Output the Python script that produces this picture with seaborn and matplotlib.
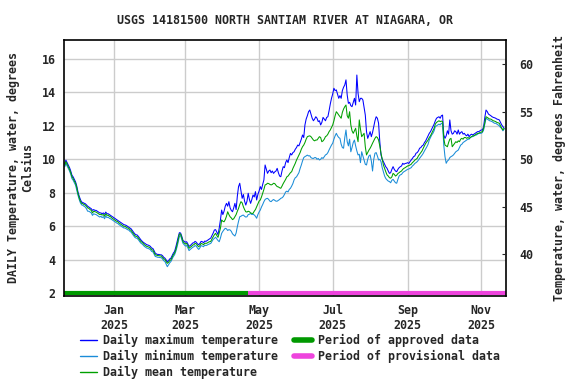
import pandas as pd
import matplotlib.pyplot as plt
from matplotlib.lines import Line2D
import seaborn as sns

# Valores diarios, 21 nov 2024 - 20 nov 2025 (grados C)
max_temp = [
    # nov 2024 (21-30)
    9.75, 9.95, 9.8, 9.65, 9.5, 9.3, 9.05, 8.95, 8.8, 8.65,
    # dic
    8.4, 8.05, 7.8, 7.6, 7.45, 7.42, 7.38, 7.35, 7.28, 7.2, 7.15, 7.1, 7.05, 6.95, 7.0, 6.95,
    6.95, 6.9, 6.85, 6.8, 6.8, 6.75, 6.8, 6.72, 6.85, 6.75, 6.75, 6.7, 6.65, 6.6, 6.55,
    # ene
    6.5, 6.45, 6.4, 6.35, 6.3, 6.25, 6.2, 6.15, 6.1, 6.08, 6.05, 6.0, 5.95, 5.9, 5.85, 5.75,
    5.65, 5.55, 5.5, 5.48, 5.4, 5.3, 5.2, 5.12, 5.05, 5.0, 4.95, 4.9, 4.88, 4.85, 4.8,
    # feb
    4.7, 4.68, 4.55, 4.4, 4.35, 4.32, 4.32, 4.3, 4.3, 4.25, 4.15, 4.1, 4.0, 3.88, 3.95, 4.05,
    4.1, 4.25, 4.4, 4.5, 4.75, 5.05, 5.35, 5.62, 5.6, 5.4, 5.15, 5.1,
    # mar
    5.05, 5.08, 4.95, 4.8, 4.85, 4.92, 5.0, 5.02, 5.1, 5.05, 4.95, 4.9, 4.98, 5.1, 5.08, 5.02,
    5.12, 5.1, 5.15, 5.2, 5.25, 5.3, 5.45, 5.6, 5.78, 5.8, 5.65, 5.5, 5.9, 6.38, 6.97,
    # abr
    6.7, 6.9, 7.2, 7.37, 7.2, 7.47, 7.1, 6.95, 6.87, 7.1, 7.37, 7.0, 7.8, 8.37, 8.57, 8.1,
    7.67, 7.9, 7.5, 7.27, 7.5, 7.97, 7.6, 7.37, 7.6, 7.87, 7.75, 8.07, 7.57, 7.9,
    # may
    8.1, 8.37, 8.2, 8.5, 8.77, 9.66, 9.4, 9.16, 9.3, 9.36, 9.2, 9.3, 9.16, 9.25, 9.3, 9.46,
    9.2, 9.0, 8.96, 9.3, 9.56, 9.5, 9.8, 9.96, 9.8, 10.1, 10.35, 10.26, 10.4, 10.45, 10.6,
    # jun
    10.7, 10.85, 10.8, 11.0, 11.2, 11.45, 11.3, 12.05, 12.4, 12.6, 12.84, 12.94, 12.7, 12.45,
    12.3, 12.4, 12.54, 12.45, 12.25, 12.3, 12.05, 12.2, 12.5, 12.4, 12.3, 12.5, 12.54, 12.9,
    13.3, 13.64,
    # jul
    13.9, 14.24, 14.1, 14.14, 13.9, 13.64, 13.8, 13.64, 14.1, 14.3, 14.44, 14.74, 13.84, 13.34,
    13.4, 13.2, 13.14, 13.4, 13.64, 13.24, 15.03, 13.94, 13.44, 13.64, 13.64, 13.54, 13.1,
    12.64, 11.65, 11.25, 11.45,
    # ago
    11.65, 11.35, 11.6, 11.95, 12.3, 12.54, 12.45, 12.15, 11.05, 10.26, 10.0, 9.86, 9.7, 9.55,
    9.46, 9.3, 9.16, 9.2, 9.4, 9.56, 9.4, 9.3, 9.26, 9.4, 9.5, 9.56, 9.6, 9.76, 9.7, 9.75, 9.76,
    # sep
    9.8, 9.75, 9.86, 9.95, 10.05, 10.16, 10.2, 10.36, 10.4, 10.5, 10.66, 10.7, 10.8, 10.85,
    11.0, 11.1, 11.25, 11.4, 11.55, 11.65, 11.8, 11.95, 12.1, 12.3, 12.45, 12.5, 12.54, 12.45,
    12.6, 12.64,
    # oct
    11.45, 11.25, 11.4, 11.7, 11.5, 12.35, 11.7, 11.5, 11.55, 11.7, 11.65, 11.5, 11.75, 11.5,
    11.6, 11.65, 11.5, 11.55, 11.45, 11.4, 11.5, 11.35, 11.45, 11.5, 11.45, 11.5, 11.55, 11.6,
    11.65, 11.65, 11.7,
    # nov 2025 (1-20)
    11.75, 11.75, 11.95, 12.5, 12.94, 12.85, 12.7, 12.65, 12.6, 12.54, 12.5, 12.48, 12.45,
    12.4, 12.38, 12.35, 12.2, 12.05, 11.95, 11.85,
]

min_temp = [
    9.55, 9.75, 9.6, 9.45, 9.3, 9.1, 8.85, 8.75, 8.6, 8.45,
    8.15, 7.85, 7.6, 7.4, 7.28, 7.25, 7.2, 7.15, 7.05, 6.9, 6.9, 6.85, 6.8, 6.65, 6.75, 6.72,
    6.7, 6.65, 6.6, 6.55, 6.6, 6.52, 6.58, 6.45, 6.62, 6.52, 6.55, 6.48, 6.45, 6.4, 6.35,
    6.3, 6.25, 6.2, 6.17, 6.1, 6.05, 6.0, 5.95, 5.9, 5.9, 5.85, 5.8, 5.78, 5.7, 5.65, 5.55,
    5.45, 5.35, 5.3, 5.28, 5.2, 5.1, 5.0, 4.95, 4.88, 4.8, 4.75, 4.7, 4.68, 4.65, 4.6,
    4.5, 4.48, 4.35, 4.2, 4.18, 4.15, 4.15, 4.13, 4.13, 4.05, 3.95, 3.9, 3.75, 3.59, 3.7, 3.82,
    3.9, 4.05, 4.2, 4.3, 4.5, 4.75, 5.05, 5.4, 5.45, 5.2, 4.98, 4.9,
    4.82, 4.85, 4.72, 4.55, 4.62, 4.68, 4.75, 4.78, 4.85, 4.82, 4.7, 4.62, 4.72, 4.85, 4.82,
    4.78, 4.88, 4.85, 4.88, 4.92, 4.95, 4.98, 5.1, 5.22, 5.28, 5.35, 5.25, 5.15, 5.08, 5.3, 5.58,
    5.7, 5.8, 5.88, 5.85, 5.75, 5.8, 5.78, 5.7, 5.55, 5.48, 5.42, 5.6, 5.98, 6.3, 6.57, 6.6,
    6.65, 6.67, 6.6, 6.55, 6.57, 6.7, 6.72, 6.77, 6.7, 6.72, 6.68, 6.6, 6.48, 6.7,
    6.85, 6.97, 7.15, 7.3, 7.47, 7.6, 7.65, 7.67, 7.6, 7.5, 7.47, 7.55, 7.6, 7.55, 7.5, 7.5,
    7.55, 7.6, 7.67, 7.7, 7.77, 7.9, 8.05, 8.1, 8.05, 8.2, 8.27, 8.4, 8.55, 8.77, 8.9,
    8.95, 9.07, 9.2, 9.45, 9.66, 9.9, 10.1, 10.16, 10.2, 10.25, 10.2, 10.21, 10.1, 10.06, 10.05,
    10.1, 10.1, 10.0, 10.05, 9.96, 10.0, 10.1, 10.05, 10.15, 10.26, 10.3, 10.4, 10.56, 10.7, 10.85,
    10.96, 11.2, 11.4, 11.55, 11.4, 11.3, 11.25, 10.9, 10.7, 10.66, 11.3, 11.75, 11.05, 10.8,
    11.2, 10.45, 10.7, 11.0, 11.15, 10.8, 10.5, 10.26, 10.3, 9.8, 10.45, 10.2, 9.96, 9.7, 9.66,
    10.0, 10.2,
    10.26, 9.9, 9.3, 10.0, 10.36, 10.4, 10.2, 9.96, 10.0, 9.86, 9.5, 9.26, 9.0, 8.85, 8.77, 8.7,
    8.67, 8.6, 8.75, 8.8, 8.7, 8.6, 8.57, 8.8, 9.0, 9.07, 9.1, 9.2, 9.26, 9.3, 9.35,
    9.4, 9.42, 9.46, 9.5, 9.6, 9.66, 9.75, 9.8, 9.86, 9.95, 10.06, 10.15, 10.25, 10.36, 10.5,
    10.62, 10.75, 10.9, 11.15, 11.3, 11.45, 11.55, 11.7, 11.95, 12.0, 12.05, 12.1, 12.05, 12.15,
    12.1,
    10.85, 10.16, 9.76, 9.9, 9.96, 10.1, 10.16, 10.2, 10.26, 10.35, 10.45, 10.5, 10.55, 10.7,
    10.85, 10.9, 11.0, 11.05, 11.1, 11.15, 11.2, 11.2, 11.3, 11.35, 11.35, 11.4, 11.45, 11.45,
    11.5, 11.55, 11.55,
    11.55, 11.6, 11.75, 12.1, 12.45, 12.4, 12.35, 12.3, 12.28, 12.25, 12.2, 12.15, 12.15, 12.1,
    12.05, 12.0, 11.9, 11.85, 11.7, 11.8,
]

mean_temp = [
    9.65, 9.86, 9.7, 9.55, 9.4, 9.2, 8.96, 8.85, 8.7, 8.57,
    8.3, 7.95, 7.7, 7.5, 7.37, 7.35, 7.3, 7.27, 7.2, 7.1, 7.07, 7.0, 6.95, 6.8, 6.9, 6.87,
    6.85, 6.8, 6.75, 6.7, 6.72, 6.67, 6.7, 6.6, 6.75, 6.65, 6.67, 6.6, 6.57, 6.5, 6.45,
    6.4, 6.35, 6.3, 6.27, 6.2, 6.15, 6.1, 6.05, 6.0, 6.0, 5.95, 5.9, 5.88, 5.8, 5.75, 5.65,
    5.55, 5.45, 5.4, 5.38, 5.3, 5.2, 5.1, 5.05, 4.98, 4.9, 4.85, 4.8, 4.78, 4.75, 4.7,
    4.6, 4.58, 4.45, 4.3, 4.28, 4.25, 4.25, 4.23, 4.23, 4.15, 4.05, 4.03, 3.9, 3.79, 3.85, 3.95,
    4.0, 4.15, 4.3, 4.4, 4.6, 4.9, 5.2, 5.54, 5.54, 5.3, 5.08, 5.0,
    4.95, 4.98, 4.85, 4.69, 4.75, 4.8, 4.88, 4.9, 4.98, 4.95, 4.85, 4.78, 4.85, 4.98, 4.95,
    4.9, 5.0, 4.98, 5.0, 5.05, 5.08, 5.1, 5.25, 5.38, 5.5, 5.58, 5.45, 5.34, 5.6, 5.88, 6.38,
    6.3, 6.27, 6.4, 6.6, 6.87, 6.7, 6.57, 6.5, 6.4, 6.45, 6.57, 6.7, 6.9, 7.07, 7.3, 7.47,
    7.4, 7.17, 7.0, 6.87, 6.85, 6.9, 6.87, 6.8, 6.77, 6.77, 6.9, 7.0, 7.17, 7.35,
    7.5, 7.57, 7.75, 7.97, 8.2, 8.47, 8.5, 8.57, 8.55, 8.5, 8.47, 8.5, 8.57, 8.55, 8.45, 8.37,
    8.35, 8.3, 8.27, 8.4, 8.55, 8.67, 8.8, 8.95, 9.0, 9.1, 9.2, 9.26, 9.45, 9.6, 9.76,
    9.95, 10.1, 10.26, 10.4, 10.6, 10.75, 10.85, 11.0, 11.2, 11.35, 11.38, 11.4, 11.35, 11.25,
    11.15, 11.1, 11.15, 11.15, 11.25, 11.35, 11.3, 11.05, 11.1, 11.2, 11.35, 11.4, 11.5, 11.65,
    11.75, 11.9,
    12.05, 12.3, 12.6, 12.84, 12.75, 12.64, 12.55, 12.45, 12.8, 13.0, 13.14, 13.24, 12.6, 12.45,
    12.84, 12.05, 11.7, 11.55, 11.7, 11.85, 11.4, 11.05, 12.35, 11.8, 11.35, 11.45, 11.55,
    10.75, 10.26, 10.4, 10.55,
    10.66, 10.8, 10.96, 11.1, 11.25, 11.35, 11.3, 11.15, 10.8, 10.36, 10.0, 9.66, 9.45, 9.25,
    9.07, 9.0, 8.9, 8.87, 8.95, 9.16, 9.1, 9.0, 9.05, 9.15, 9.2, 9.26, 9.3, 9.4, 9.46, 9.5, 9.55,
    9.6, 9.62, 9.66, 9.7, 9.8, 9.86, 9.95, 10.0, 10.06, 10.2, 10.3, 10.4, 10.5, 10.66, 10.8,
    10.95, 11.05, 11.15, 11.3, 11.4, 11.55, 11.7, 11.85, 12.1, 12.2, 12.25, 12.3, 12.25, 12.28,
    12.25,
    11.25, 10.85, 10.8, 10.75, 11.0, 11.2, 11.25, 10.75, 10.85, 10.95, 11.05, 11.0, 11.1, 11.05,
    11.2, 11.25, 11.2, 11.3, 11.3, 11.25, 11.3, 11.25, 11.3, 11.35, 11.4, 11.4, 11.45, 11.5,
    11.55, 11.55, 11.6,
    11.62, 11.65, 11.85, 12.2, 12.54, 12.5, 12.45, 12.4, 12.4, 12.35, 12.3, 12.28, 12.25, 12.2,
    12.18, 12.15, 12.0, 11.85, 11.75, 11.85,
]

series = ['Daily maximum temperature', 'Daily minimum temperature', 'Daily mean temperature']
colors = {'Daily maximum temperature': '#0000ff',
          'Daily minimum temperature': '#1a8cd8',
          'Daily mean temperature': '#00a000'}
approved_color = '#009900'
provisional_color = '#ee44dd'

start = pd.Timestamp('2024-11-21')
approved_end = pd.Timestamp('2025-04-22')
dates = pd.date_range(start, periods=len(mean_temp), freq='D')
tick_dates = pd.to_datetime(['2025-01-01', '2025-03-01', '2025-05-01',
                             '2025-07-01', '2025-09-01', '2025-11-01'])
tick_labels = ['Jan\n2025', 'Mar\n2025', 'May\n2025', 'Jul\n2025', 'Sep\n2025', 'Nov\n2025']

df = pd.DataFrame({'date': dates, series[0]: max_temp, series[1]: min_temp, series[2]: mean_temp})
long = df.melt(id_vars='date', var_name='serie', value_name='temp')

sns.set_style('white')
plt.rcParams['font.family'] = ['DejaVu Sans Mono']
plt.rcParams['font.weight'] = 'bold'
fs = 8.4

fig = plt.figure(figsize=(5.76, 3.84), dpi=100)
ax = fig.add_axes([64 / 576, 1 - 296 / 384, (505.7 - 64) / 576, (296 - 39.5) / 384])

x0 = start - pd.Timedelta(hours=14)
x1 = start + pd.Timedelta(days=365.3)

ax.grid(True, color='#cccccc', linewidth=1)
ax.set_axisbelow(True)
sns.lineplot(data=long, x='date', y='temp', hue='serie', hue_order=series, palette=colors,
             linewidth=0.75, legend=False, ax=ax)
ax.hlines(2, x0, approved_end, color=approved_color, linewidth=3)
ax.hlines(2, approved_end, x1, color=provisional_color, linewidth=3)

ax.set_xlim(x0, x1)
ax.set_ylim(1.84, 17.15)
ax.set_yticks(range(2, 17, 2))
ax.set_xticks(tick_dates)
ax.set_xticklabels(tick_labels, fontsize=fs, fontweight='bold')
ax.tick_params(axis='y', labelsize=fs, direction='in', length=0, pad=6)
ax.tick_params(axis='x', direction='in', length=0, pad=6)
ax.set_xlabel('')
ax.set_ylabel('DAILY Temperature, water, degrees\nCelsius', fontsize=fs, fontweight='bold',
              linespacing=1.1)
ax.yaxis.set_label_coords(-0.068, 0.5)
for s in ax.spines.values():
    s.set_color('black')
    s.set_linewidth(1.2)
ax.set_title('USGS 14181500 NORTH SANTIAM RIVER AT NIAGARA, OR', fontsize=fs,
             fontweight='bold', pad=11)

ax2 = ax.twinx()
ax2.set_ylim(35.6, 62.6)
ax2.set_yticks([40, 45, 50, 55, 60])
ax2.tick_params(axis='y', labelsize=fs, direction='in', length=3, pad=10)
ax2.set_ylabel('Temperature, water, degrees Fahrenheit', fontsize=fs, fontweight='bold',
               labelpad=14)
ax2.grid(False)
for s in ax2.spines.values():
    s.set_visible(False)

handles = [Line2D([], [], color=colors[series[0]], lw=1),
           Line2D([], [], color=colors[series[1]], lw=1),
           Line2D([], [], color=colors[series[2]], lw=1),
           Line2D([], [], color=approved_color, lw=4),
           Line2D([], [], color=provisional_color, lw=4)]
labels = series + ['Period of approved data', 'Period of provisional data']
fig.legend(handles, labels, loc='upper left', bbox_to_anchor=(76 / 576, 1 - 330 / 384),
           ncol=2, frameon=False, fontsize=fs, handlelength=1.5, handletextpad=0.5,
           columnspacing=1.4, labelspacing=0.25, borderaxespad=0, borderpad=0.3)

fig.savefig('out.png', dpi=100)
